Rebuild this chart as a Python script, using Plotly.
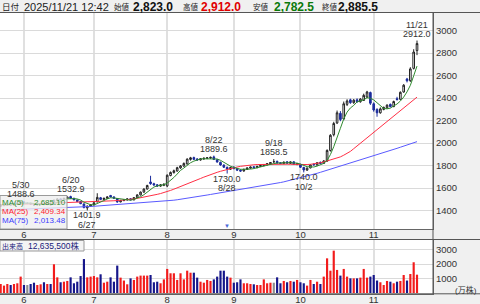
import pandas as pd
import plotly.graph_objects as go

# ---------------- data ----------------
holidays = ['2025-07-21', '2025-08-11', '2025-09-15', '2025-09-23', '2025-10-13', '2025-11-03']
dates = [d.strftime('%Y-%m-%d') for d in pd.bdate_range('2025-05-22', '2025-11-21')
         if d.strftime('%Y-%m-%d') not in holidays]

opens = [
    1440, 1445, 1448, 1460, 1450, 1460, 1466,
    1478, 1465, 1466, 1458, 1450, 1455, 1462, 1454, 1460, 1455, 1490, 1505, 1496, 1508, 1525, 1510, 1495, 1482, 1460, 1425, 1440,
    1452, 1478, 1515, 1500, 1510, 1535, 1522, 1508, 1478, 1490, 1496, 1506, 1496, 1516, 1540, 1565, 1592, 1655, 1640, 1630, 1618, 1625,
    1620, 1712, 1738, 1752, 1780, 1796, 1815, 1855, 1872, 1860, 1850, 1860, 1864, 1868, 1878, 1852, 1830, 1805, 1785, 1768,
    1786, 1775, 1760, 1752, 1766, 1778, 1790, 1782, 1792, 1800, 1808, 1816, 1835, 1838, 1826, 1818, 1834, 1820, 1834, 1810,
    1812, 1784, 1760, 1780, 1812, 1806, 1830, 1820, 1840, 1935, 2075, 2180, 2265, 2215, 2345, 2385, 2360, 2385, 2368, 2380, 2410, 2450,
    2350, 2300, 2270, 2300, 2315, 2345, 2325, 2395, 2390, 2455, 2570, 2555, 2665, 2823.0,
]
highs = [
    1458, 1455, 1462, 1463, 1465, 1472, 1488.6,
    1482, 1472, 1470, 1462, 1460, 1466, 1465, 1464, 1463, 1500, 1510, 1508, 1515, 1528, 1532.9, 1514, 1498, 1485, 1464, 1446, 1458,
    1475, 1555, 1522, 1515, 1528, 1540, 1528, 1512, 1496, 1502, 1508, 1510, 1520, 1545, 1570, 1598, 1630, 1710, 1648, 1636, 1636, 1642,
    1722, 1748, 1765, 1790, 1805, 1828, 1865, 1878, 1880, 1866, 1868, 1872, 1876, 1880, 1889.6, 1858, 1836, 1812, 1792, 1790,
    1795, 1780, 1768, 1772, 1785, 1792, 1795, 1798, 1806, 1815, 1822, 1832, 1858.5, 1845, 1832, 1836, 1840, 1838, 1838, 1822,
    1816, 1790, 1784, 1812, 1820, 1832, 1836, 1850, 1945, 2080, 2190, 2290, 2285, 2370, 2390, 2395, 2392, 2398, 2400, 2440, 2465, 2458,
    2362, 2310, 2318, 2325, 2345, 2352, 2378, 2412, 2460, 2525, 2580, 2675, 2835, 2912.0,
]
lows = [
    1436, 1440, 1445, 1446, 1447, 1455, 1462,
    1462, 1458, 1452, 1444, 1446, 1450, 1450, 1450, 1448, 1452, 1485, 1492, 1492, 1504, 1505, 1492, 1476, 1458, 1420, 1401.9, 1436,
    1448, 1474, 1496, 1495, 1505, 1518, 1506, 1470, 1474, 1484, 1490, 1492, 1492, 1512, 1535, 1560, 1588, 1630, 1622, 1612, 1612, 1618,
    1610, 1706, 1730, 1748, 1772, 1790, 1810, 1845, 1850, 1845, 1845, 1852, 1858, 1860, 1850, 1828, 1800, 1780, 1730.0, 1762,
    1768, 1752, 1745, 1748, 1762, 1772, 1776, 1778, 1788, 1795, 1802, 1810, 1825, 1818, 1814, 1814, 1818, 1816, 1808, 1804,
    1780, 1740.0, 1755, 1776, 1800, 1800, 1815, 1816, 1836, 1925, 2060, 2170, 2195, 2205, 2330, 2350, 2350, 2360, 2360, 2375, 2400, 2340,
    2280, 2235, 2262, 2292, 2305, 2318, 2320, 2378, 2385, 2448, 2540, 2545, 2655, 2782.5,
]
closes = [
    1452, 1450, 1458, 1450, 1462, 1468, 1478,
    1466, 1465, 1458, 1450, 1456, 1462, 1454, 1460, 1452, 1492, 1504, 1496, 1510, 1522, 1510, 1496, 1482, 1462, 1428, 1440, 1452,
    1470, 1518, 1500, 1510, 1522, 1522, 1510, 1478, 1490, 1498, 1504, 1496, 1516, 1540, 1565, 1592, 1624, 1640, 1628, 1618, 1630, 1635,
    1715, 1740, 1755, 1782, 1798, 1820, 1858, 1870, 1856, 1850, 1862, 1866, 1870, 1874, 1855, 1832, 1806, 1786, 1770, 1784,
    1774, 1760, 1752, 1768, 1780, 1788, 1782, 1794, 1802, 1810, 1818, 1828, 1835, 1824, 1820, 1832, 1822, 1834, 1812, 1816,
    1786, 1762, 1778, 1806, 1808, 1826, 1820, 1842, 1935, 2070, 2175, 2270, 2210, 2350, 2375, 2360, 2382, 2368, 2392, 2425, 2455, 2355,
    2295, 2270, 2305, 2318, 2338, 2325, 2370, 2388, 2452, 2515, 2555, 2660, 2810, 2885.5,
]
volume = [  # 万株
    620, 510, 620, 550, 620, 670, 1130,
    550, 550, 620, 710, 550, 600, 740, 620, 620, 1980, 1080, 740, 780, 830, 1080, 670, 780, 1170, 2340, 1080, 1130,
    1170, 1080, 1290, 710, 780, 1080, 780, 1890, 1060, 860, 600, 1010, 900, 1130, 1200, 1200, 1200, 1240, 740, 780, 670, 940,
    1660, 1360, 1360, 900, 1360, 940, 1540, 1400, 1400, 1060, 780, 710, 900, 830, 940, 1130, 1540, 1540, 1130, 1060,
    710, 740, 940, 670, 670, 620, 600, 550, 550, 940, 670, 710, 710, 1080, 670, 830, 740, 830, 780, 900,
    740, 670, 510, 900, 620, 780, 620, 1130, 2390, 1540, 2920, 1590, 1200, 1660, 1130, 1010, 1010, 1010, 1060, 1660, 1060, 1130,
    1240, 860, 740, 550, 830, 780, 670, 780, 830, 1240, 860, 1310, 2120, 1263.55,
]
ma25 = [
    1450, 1451, 1452, 1452, 1453, 1454, 1455, 1456, 1457, 1458,
    1459, 1460, 1460, 1461, 1462, 1463, 1464, 1465, 1466, 1467,
    1468, 1470, 1472, 1473, 1474, 1475, 1475, 1476, 1477, 1478,
    1480, 1482, 1484, 1486, 1488, 1490, 1492, 1494, 1497, 1500,
    1504, 1509, 1514, 1520, 1526, 1532, 1538, 1545, 1552, 1560,
    1570, 1580, 1591, 1602, 1614, 1626, 1638, 1650, 1662, 1674,
    1686, 1698, 1710, 1721, 1731, 1741, 1750, 1759, 1767, 1774,
    1781, 1788, 1794, 1799, 1803, 1806, 1808, 1810, 1811, 1812,
    1813, 1814, 1814, 1815, 1815, 1814, 1813, 1812, 1811, 1809,
    1808, 1808, 1810, 1812, 1815, 1820, 1826, 1833, 1841, 1850, 1859, 1868,
    1878, 1893, 1909, 1927, 1951, 1975, 1999, 2023, 2047, 2071,
    2095, 2119, 2143, 2167, 2190, 2213, 2236, 2259, 2282, 2307, 2332, 2357, 2383, 2409.34,
]
ma75 = [
    1405, 1406, 1407, 1408, 1409, 1410, 1411, 1412, 1413, 1414,
    1415, 1416, 1417, 1418, 1419, 1420, 1421, 1421, 1422, 1423,
    1424, 1426, 1428, 1430, 1432, 1434, 1435, 1437, 1439, 1441,
    1443, 1445, 1447, 1449, 1451, 1453, 1455, 1457, 1459, 1461,
    1463, 1465, 1467, 1469, 1471, 1474, 1477, 1480, 1483, 1486,
    1489, 1491, 1493, 1497, 1501, 1505, 1509, 1514, 1519, 1524,
    1529, 1534, 1539, 1544, 1549, 1554, 1559, 1564, 1569, 1575,
    1580, 1585, 1590, 1595, 1600, 1604, 1608, 1611, 1614, 1620,
    1626, 1632, 1638, 1644, 1650, 1656, 1663, 1670, 1677, 1684,
    1692, 1700, 1708, 1716, 1724, 1732, 1741, 1750, 1759, 1768,
    1777, 1786, 1795, 1804, 1813, 1822, 1831, 1840, 1849, 1858,
    1867, 1876, 1885, 1894, 1904, 1914, 1924, 1934, 1944, 1954,
    1964, 1973, 1983, 1993, 2003, 2013.48,
]
month_starts = ['2025-06-02', '2025-07-01', '2025-08-01', '2025-09-01', '2025-10-01', '2025-11-04']
month_labels = ['6', '7', '8', '9', '10', '11']
marked_highs = ['2025-05-30', '2025-06-20', '2025-08-22', '2025-09-18', '2025-11-21']
marked_lows = ['2025-06-27', '2025-08-28', '2025-10-02']
event_marker = '2025-08-28'
header_time = '12:42'
price_ticks = [1400, 1600, 1800, 2000, 2200, 2400, 2600, 2800, 3000]
volume_ticks = [1000, 2000, 3000]

ma5 = pd.Series(closes).rolling(5, min_periods=1).mean().tolist()

# ---------------- styling ----------------
W, H = 480, 304
def px(x):
    return x / W
def py(y):
    return 1 - y / H

FONT = 'Liberation Sans, Arial, Noto Sans CJK JP, sans-serif'
UP_LINE, DOWN_COL = '#222222', '#1c2c9c'
VOL_UP, VOL_DOWN, VOL_FLAT = '#f21c1c', '#16168a', '#8c8c8c'
C_MA5, C_MA25, C_MA75 = '#2f8a2f', '#ff2f45', '#5a5aff'

vol_colors = [VOL_UP if c > o else (VOL_DOWN if c < o else VOL_FLAT) for o, c in zip(opens, closes)]

fig = go.Figure()
fig.add_trace(go.Candlestick(
    x=dates, open=opens, high=highs, low=lows, close=closes,
    increasing=dict(line=dict(color=UP_LINE, width=1), fillcolor='#ffffff'),
    decreasing=dict(line=dict(color=DOWN_COL, width=1), fillcolor=DOWN_COL),
    whiskerwidth=0, xaxis='x', yaxis='y', showlegend=False, hoverinfo='skip'))
for ys, col in [(ma75, C_MA75), (ma25, C_MA25), (ma5, C_MA5)]:
    fig.add_trace(go.Scatter(x=dates, y=ys, mode='lines', line=dict(color=col, width=1),
                             xaxis='x', yaxis='y', showlegend=False, hoverinfo='skip'))
fig.add_trace(go.Bar(x=dates, y=volume, marker=dict(color=vol_colors, line=dict(width=0)),
                     xaxis='x2', yaxis='y2', showlegend=False, hoverinfo='skip'))

x_dom = [0, px(433)]
axis_common = dict(showline=True, linecolor='#666666', linewidth=1, mirror=True, ticks='',
                   tickfont=dict(family=FONT, size=9.5, color='#333333'), fixedrange=True)
fig.update_layout(
    width=W, height=H, autosize=False, margin=dict(l=0, r=0, t=0, b=0),
    paper_bgcolor='#f0f0f0', plot_bgcolor='#ffffff', showlegend=False,
    bargap=0.35, boxgap=0.3,
    xaxis=dict(domain=x_dom, anchor='y', type='category', range=[-0.2, 129.8],
               tickvals=month_starts, ticktext=month_labels, showgrid=True, ticklabelstandoff=-3,
               gridcolor='#e0e0e0', gridwidth=2, rangeslider=dict(visible=False), **axis_common),
    yaxis=dict(domain=[py(229), py(13)], anchor='x', side='right', range=[1237, 3157],
               tickvals=price_ticks, showgrid=True, gridcolor='#dadada', gridwidth=1,
               zeroline=False, **axis_common),
    xaxis2=dict(domain=x_dom, anchor='y2', type='category', matches='x', ticklabelstandoff=-3,
                tickvals=month_starts, ticktext=month_labels, showgrid=True,
                gridcolor='#e0e0e0', gridwidth=2, **axis_common),
    yaxis2=dict(domain=[py(294), py(240)], anchor='x2', side='right', range=[-69, 3655],
                tickvals=volume_ticks, showgrid=True, gridcolor='#dadada', gridwidth=1,
                zeroline=False, **axis_common),
)

shapes = [
    dict(type='line', xref='paper', yref='paper', x0=0, x1=1, y0=py(12.5), y1=py(12.5),
         line=dict(color='#555555', width=1)),
    dict(type='line', xref='paper', yref='paper', x0=0, x1=1, y0=py(239.5), y1=py(239.5),
         line=dict(color='#555555', width=1)),
    dict(type='line', xref='paper', yref='paper', x0=0, x1=1, y0=py(293.8), y1=py(293.8),
         line=dict(color='#555555', width=1)),
    dict(type='line', xref='paper', yref='paper', x0=px(433), x1=px(433), y0=py(294), y1=py(12.5),
         line=dict(color='#555555', width=1)),
    # MA legend box
    dict(type='rect', xref='paper', yref='paper', x0=px(0), x1=px(67), y0=py(229), y1=py(195.5),
         fillcolor='rgba(238,238,238,0.78)', line=dict(color='#9a9a9a', width=1)),
    # volume label box
    dict(type='rect', xref='paper', yref='paper', x0=px(0), x1=px(84), y0=py(251), y1=py(240.5),
         fillcolor='#f4f4f4', line=dict(color='#9a9a9a', width=1)),
]

ann = []
def text(x, y, s, size=9.5, color='#222222', anchor='left', bold=False):
    ann.append(dict(x=px(x), y=py(y), xref='paper', yref='paper', text=f'<b>{s}</b>' if bold else s,
                    showarrow=False, xanchor=anchor, yanchor='middle', borderpad=0,
                    font=dict(family=FONT, size=size, color=color)))

# header
d_last = dates[-1].replace('-', '/')
text(1, 6.5, '日付', 8.5)
text(23, 6.5, f'{d_last} {header_time}', 11)
text(113, 6.5, '始値', 7.5)
text(132, 6.5, f'{opens[-1]:,.1f}', 12, '#111111', bold=True)
text(182, 6.5, '高値', 7.5)
text(200, 6.5, f'{highs[-1]:,.1f}', 12, '#e00000', bold=True)
text(252, 6.5, '安値', 7.5)
text(273, 6.5, f'{lows[-1]:,.1f}', 12, '#0a7a0a', bold=True)
text(321, 6.5, '終値', 7.5)
text(337, 6.5, f'{closes[-1]:,.1f}', 12, '#111111', bold=True)

# MA legend
for yy, name, val, col in [(202.5, 'MA(5)', ma5[-1], C_MA5), (211.5, 'MA(25)', ma25[-1], '#ff2030'),
                           (220.5, 'MA(75)', ma75[-1], '#3c3cff')]:
    text(0.5, yy, name, 8, col)
    text(66.5, yy, f'{val:,.2f}', 8, col, anchor='right')

# volume label
text(0.5, 246, '出来高', 7, '#20207a')
text(27, 246, f'{int(round(volume[-1] * 10000)):,}株', 8.5, '#20207a')
text(454, 290, '(万株)', 8, '#333333')

# high / low markers
LBL = dict(family=FONT, size=9, color='#333333')
for d in marked_highs:
    i = dates.index(d)
    lab = f'{int(d[5:7])}/{int(d[8:10])}'
    for s, sh in [(f'{highs[i]:.1f}', 7), (lab, 16)]:
        ann.append(dict(x=d, y=highs[i], xref='x', yref='y', text=s, showarrow=False, borderpad=0,
                        yshift=sh, yanchor='middle', xanchor='center', font=LBL))
for d in marked_lows:
    i = dates.index(d)
    lab = f'{int(d[5:7])}/{int(d[8:10])}'
    for s, sh in [(f'{lows[i]:.1f}', -5), (lab, -14.5)]:
        ann.append(dict(x=d, y=lows[i], xref='x', yref='y', text=s, showarrow=False, borderpad=0,
                        yshift=sh, yanchor='middle', xanchor='center', font=LBL))
ann.append(dict(x=event_marker, y=py(226), xref='x', yref='paper', text='▼', showarrow=False,
                borderpad=0, yanchor='middle', xanchor='center',
                font=dict(family=FONT, size=6, color='#4a6ad8')))

fig.update_layout(shapes=shapes, annotations=ann)
fig.write_html('out.html')
